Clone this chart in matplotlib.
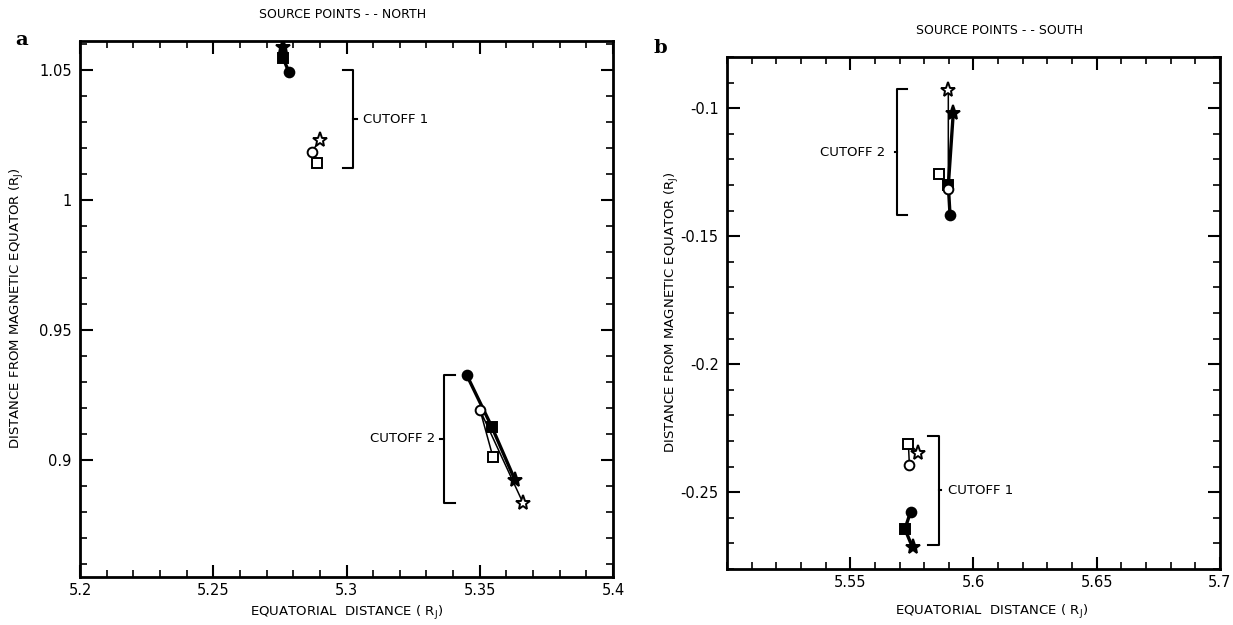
import matplotlib
matplotlib.use("Agg")
import matplotlib.pyplot as plt
from matplotlib.ticker import MultipleLocator, FixedLocator

# ---- panel a: source points north ----
# each cluster is drawn as a filled path and an open path
a_c1_filled_x = [5.2784, 5.2762, 5.2762]
a_c1_filled_y = [1.0492, 1.0546, 1.0588]
a_c1_filled_m = ['o', 's', '*']
a_c1_open_x = [5.2888, 5.2869, 5.2901]
a_c1_open_y = [1.0141, 1.0186, 1.0231]
a_c1_open_m = ['s', 'o', '*']

a_c2_filled_x = [5.3451, 5.3545, 5.3632]
a_c2_filled_y = [0.9327, 0.9128, 0.8923]
a_c2_filled_m = ['o', 's', '*']
a_c2_open_x = [5.3549, 5.3501, 5.3663]
a_c2_open_y = [0.9013, 0.9192, 0.8833]
a_c2_open_m = ['s', 'o', '*']

# ---- panel b: source points south ----
b_c2_filled_x = [5.5905, 5.5898, 5.5918]
b_c2_filled_y = [-0.1418, -0.1301, -0.1020]
b_c2_filled_m = ['o', 's', '*']
b_c2_open_x = [5.5861, 5.5898, 5.5898]
b_c2_open_y = [-0.1258, -0.1314, -0.0929]
b_c2_open_m = ['s', 'o', '*']

b_c1_filled_x = [5.5745, 5.5722, 5.5753]
b_c1_filled_y = [-0.2576, -0.2644, -0.2716]
b_c1_filled_m = ['o', 's', '*']
b_c1_open_x = [5.5740, 5.5736, 5.5777]
b_c1_open_y = [-0.2393, -0.2310, -0.2345]
b_c1_open_m = ['o', 's', '*']

a_xticks = [5.2, 5.25, 5.3, 5.35, 5.4]
a_xlabels = ['5.2', '5.25', '5.3', '5.35', '5.4']
a_yticks = [0.9, 0.95, 1.0, 1.05]
a_ylabels = ['0.9', '0.95', '1', '1.05']
b_xticks = [5.55, 5.6, 5.65, 5.7]
b_xlabels = ['5.55', '5.6', '5.65', '5.7']
b_yticks = [-0.25, -0.2, -0.15, -0.1]
b_ylabels = ['-0.25', '-0.2', '-0.15', '-0.1']

xlab = 'EQUATORIAL  DISTANCE ( R$_\\mathregular{J}$)'
ylab = 'DISTANCE FROM MAGNETIC EQUATOR (R$_\\mathregular{J}$)'

plt.rcParams['font.family'] = ['DejaVu Sans']

fig = plt.figure(figsize=(12.33, 6.25), dpi=100)
axa = fig.add_axes([0.0649, 0.0768, 0.4323, 0.8576])
axb = fig.add_axes([0.5896, 0.0896, 0.3998, 0.8192])


def draw_path(ax, xs, ys, marks, filled):
    lw = 2.4 if filled else 1.1
    ax.plot(xs, ys, color='black', lw=lw, zorder=2)
    for x, y, m in zip(xs, ys, marks):
        ms = 11 if m == '*' else 7
        face = 'black' if filled else 'white'
        ax.plot(x, y, marker=m, ms=ms, mfc=face, mec='black', mew=1.4,
                ls='none', zorder=3)


def bracket(ax, x, x_end, y0, y1, x_notch):
    ym = (y0 + y1) / 2
    ax.plot([x_end, x, x, x_end], [y0, y0, y1, y1], color='black', lw=1.5)
    ax.plot([x, x_notch], [ym, ym], color='black', lw=1.5)
    return ym


def style(ax, xticks, xlabels, yticks, ylabels):
    for s in ax.spines.values():
        s.set_linewidth(2.0)
    ax.xaxis.set_major_locator(FixedLocator(xticks))
    ax.set_xticklabels(xlabels)
    ax.yaxis.set_major_locator(FixedLocator(yticks))
    ax.set_yticklabels(ylabels)
    ax.xaxis.set_minor_locator(MultipleLocator(0.01))
    ax.yaxis.set_minor_locator(MultipleLocator(0.01))
    ax.tick_params(which='major', direction='in', length=9, width=1.5,
                   top=True, right=True, labelsize=10.5, pad=6)
    ax.tick_params(axis='x', which='major', pad=4)
    ax.tick_params(which='minor', direction='in', length=5, width=1.2,
                   top=True, right=True)


# panel a
draw_path(axa, a_c1_filled_x, a_c1_filled_y, a_c1_filled_m, True)
draw_path(axa, a_c1_open_x, a_c1_open_y, a_c1_open_m, False)
draw_path(axa, a_c2_filled_x, a_c2_filled_y, a_c2_filled_m, True)
draw_path(axa, a_c2_open_x, a_c2_open_y, a_c2_open_m, False)
axa.set_xlim(5.2, 5.4)
axa.set_ylim(0.855, 1.0612)
style(axa, a_xticks, a_xlabels, a_yticks, a_ylabels)
ym = bracket(axa, 5.3024, 5.2987, 1.05, 1.0123, 5.3039)
axa.text(5.3062, ym, 'CUTOFF 1', fontsize=9.5, va='center', ha='left')
ym = bracket(axa, 5.3364, 5.3407, 0.9327, 0.8835, 5.3352)
axa.text(5.3332, ym, 'CUTOFF 2', fontsize=9.5, va='center', ha='right')
fig.text(347 / 1233, 1 - 613 / 625, xlab, fontsize=9.5,
         ha='center', va='center')
fig.text(17 / 1233, 1 - 308 / 625, ylab, fontsize=9.5, rotation=90,
         ha='center', va='center')
fig.text(343 / 1233, 1 - 14 / 625, 'SOURCE POINTS - - NORTH', fontsize=9,
         ha='center', va='center')
fig.text(22 / 1233, 1 - 40 / 625, 'a', fontsize=14, fontweight='bold',
         family='DejaVu Serif', ha='center', va='center')

# panel b
draw_path(axb, b_c2_filled_x, b_c2_filled_y, b_c2_filled_m, True)
draw_path(axb, b_c2_open_x, b_c2_open_y, b_c2_open_m, False)
draw_path(axb, b_c1_filled_x, b_c1_filled_y, b_c1_filled_m, True)
draw_path(axb, b_c1_open_x, b_c1_open_y, b_c1_open_m, False)
axb.set_xlim(5.5, 5.7)
axb.set_ylim(-0.28, -0.08)
style(axb, b_xticks, b_xlabels, b_yticks, b_ylabels)
ym = bracket(axb, 5.5688, 5.5729, -0.0925, -0.1418, 5.5680)
axb.text(5.5641, ym, 'CUTOFF 2', fontsize=9.5, va='center', ha='right')
ym = bracket(axb, 5.5862, 5.5817, -0.2279, -0.2706, 5.5870)
axb.text(5.5895, ym, 'CUTOFF 1', fontsize=9.5, va='center', ha='left')
fig.text(992 / 1233, 1 - 612 / 625, xlab, fontsize=9.5,
         ha='center', va='center')
fig.text(672 / 1233, 1 - 312 / 625, ylab, fontsize=9.5, rotation=90,
         ha='center', va='center')
fig.text(1000 / 1233, 1 - 30 / 625, 'SOURCE POINTS - - SOUTH', fontsize=9,
         ha='center', va='center')
fig.text(660 / 1233, 1 - 48 / 625, 'b', fontsize=14, fontweight='bold',
         family='DejaVu Serif', ha='center', va='center')

fig.savefig('out.png', dpi=100)
